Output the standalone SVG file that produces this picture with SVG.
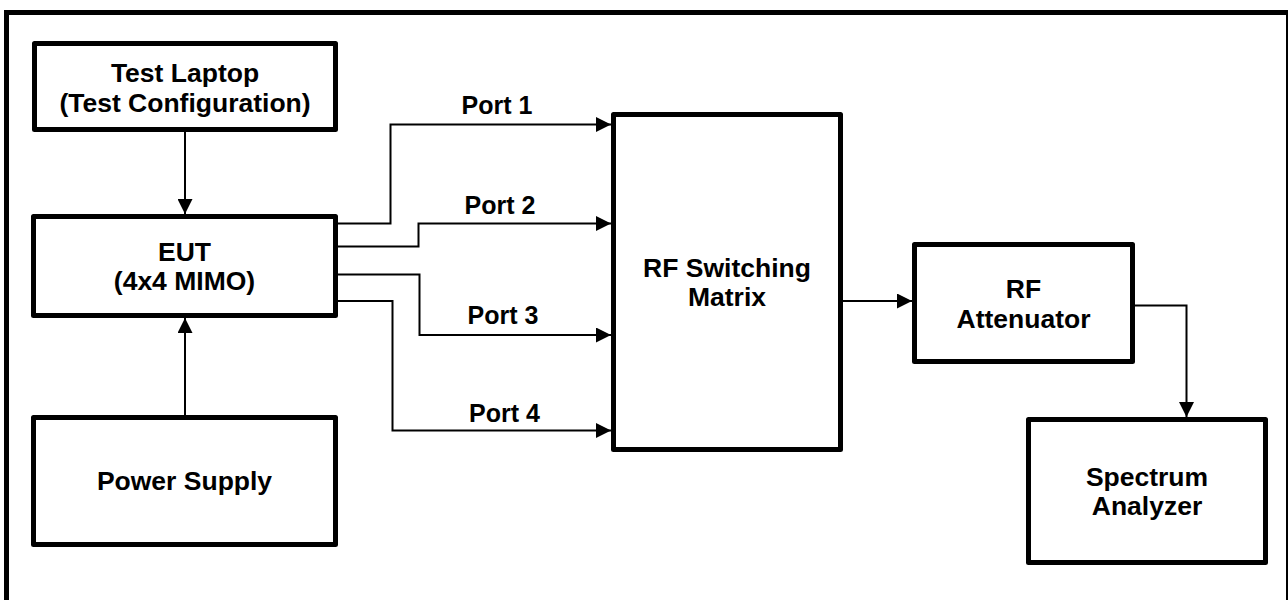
<svg xmlns="http://www.w3.org/2000/svg" width="1288" height="600" viewBox="0 0 1288 600">
<style>
.box{fill:#fff;stroke:#000;stroke-width:5;stroke-linejoin:round}
.lbl{font-family:"Liberation Sans",Arial,sans-serif;font-weight:bold;font-size:26.5px;fill:#000;text-anchor:middle}
.port{font-size:25px}
.con{fill:none;stroke:#000;stroke-width:2;marker-end:url(#arr)}
</style>
<defs>
<marker id="arr" markerUnits="userSpaceOnUse" markerWidth="15" markerHeight="15" refX="15" refY="7.5" orient="auto">
<path d="M0,0 L15,7.5 L0,15 z" fill="#000"/>
</marker>
</defs>
<rect width="1288" height="600" fill="#fff"/>
<rect x="6.5" y="12.5" width="1282" height="640" fill="none" stroke="#000" stroke-width="5"/>
<g id="connectors">
<path class="con" d="M185,132 V214"/>
<path class="con" d="M185,415 V318"/>
<path class="con" d="M338,223.5 H390.5 V124.5 H611"/>
<path class="con" d="M338,246.5 H418.5 V223.5 H611"/>
<path class="con" d="M338,274.5 H419.5 V335 H611"/>
<path class="con" d="M338,301 H392.5 V430.5 H611"/>
<path class="con" d="M843,301 H912"/>
<path class="con" d="M1135,305.5 H1186.5 V417"/>
</g>
<g id="labels">
<text class="lbl port" x="497" y="114">Port 1</text>
<text class="lbl port" x="500" y="214">Port 2</text>
<text class="lbl port" x="503" y="324">Port 3</text>
<text class="lbl port" x="504.5" y="421.5">Port 4</text>
</g>
<g id="laptop">
<rect class="box" x="34.5" y="43.5" width="301" height="86"/>
<text class="lbl" x="185" y="82">Test Laptop</text>
<text class="lbl" x="185" y="112">(Test Configuration)</text>
</g>
<g id="eut">
<rect class="box" x="33.5" y="216.5" width="302" height="99"/>
<text class="lbl" x="184.5" y="261">EUT</text>
<text class="lbl" x="184.5" y="290">(4x4 MIMO)</text>
</g>
<g id="power">
<rect class="box" x="33.5" y="417.5" width="302" height="127"/>
<text class="lbl" x="184.5" y="490">Power Supply</text>
</g>
<g id="matrix">
<rect class="box" x="613.5" y="114.5" width="227" height="335"/>
<text class="lbl" x="727" y="277">RF Switching</text>
<text class="lbl" x="727" y="306">Matrix</text>
</g>
<g id="attenuator">
<rect class="box" x="914.5" y="244.5" width="218" height="117"/>
<text class="lbl" x="1023.5" y="298">RF</text>
<text class="lbl" x="1023.5" y="328">Attenuator</text>
</g>
<g id="analyzer">
<rect class="box" x="1028.5" y="419.5" width="237" height="143"/>
<text class="lbl" x="1147" y="486">Spectrum</text>
<text class="lbl" x="1147" y="515">Analyzer</text>
</g>
</svg>
